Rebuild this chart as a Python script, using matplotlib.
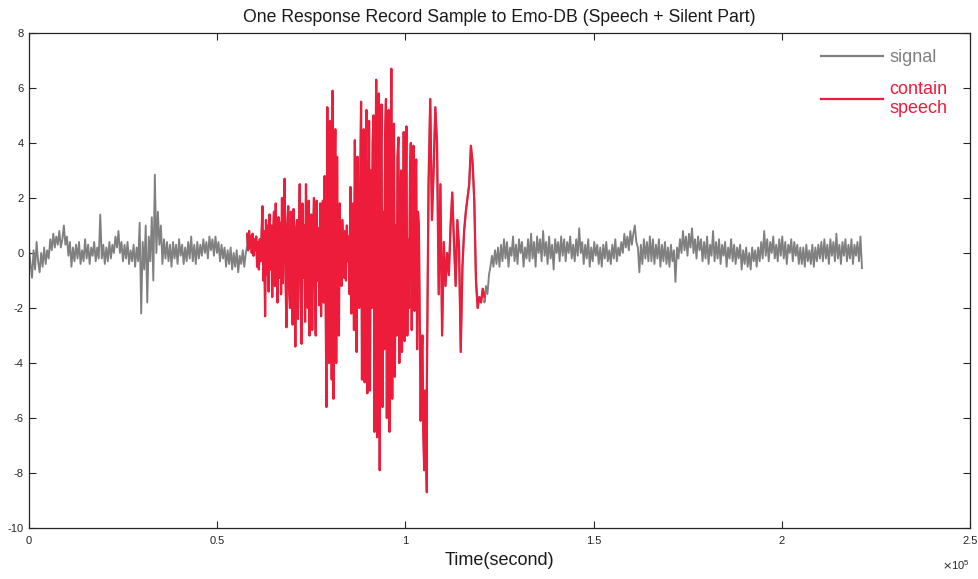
import numpy as np
import matplotlib
matplotlib.use("Agg")
import matplotlib.pyplot as plt
from matplotlib.ticker import FuncFormatter
from matplotlib.lines import Line2D

# ---------------- data ----------------
# segment boundaries in samples
t_breaks = [0, 58000, 105700, 121000, 221300]

pre_silence = [
    0.2, -0.4, -0.9, 0.1, -0.6, 0.4, -0.3, -0.7, 0.0, -0.5, 0.2, -0.4, 0.1, -0.2,
    0.5, 0.1, 0.7, 0.2, 0.6, 0.3, 0.8, 0.2, 0.5, 1.0, 0.3, 0.6,
    -0.1, 0.4, -0.5, 0.2, -0.3, 0.3, -0.2, 0.4, -0.4, 0.1, -0.3, 0.5, -0.2, 0.3,
    -0.4, 0.2, -0.1, 0.4, -0.3, 0.2, -0.2,
    1.4, -0.2, 0.3, -0.4, 0.2, -0.3, 0.4, -0.2, 0.3, 0.0, 0.6, 0.2, 0.8, 0.0,
    0.4, -0.3, 0.3, -0.2, 0.4, -0.4, 0.1, -0.3, 0.3, -0.5,
    0.2, -0.3, 1.1, -2.2, 0.4, -0.6, 1.0, -1.8, 0.6, -0.3, 1.3, -1.0, 2.85, 0.0, 1.5, 0.3,
    1.0, -0.4, 0.5, -0.2, 0.4, -0.3, 0.3, -0.5, 0.4, -0.2, 0.3, -0.4, 0.5, -0.1,
    0.3, -0.4, 0.2, -0.3, 0.4, -0.2, 0.6, -0.3, 0.3, -0.4, 0.4, -0.2, 0.3,
    -0.1, 0.5, 0.0, 0.4, -0.2, 0.6, 0.1, 0.5, -0.1, 0.6, 0.0, 0.4, -0.3, 0.3, -0.2,
    0.2, -0.5, 0.1, -0.4, 0.2, -0.6, 0.0, -0.5, 0.1, -0.7, -0.1, -0.4, 0.1, -0.5, 0.0, 0.3,
]

speech_dense = [
    0.7, 0.1, 0.8, 0.2, 0.6, 0.0, 0.7, -0.1, 0.5, 0.1,
    0.6, -0.5, 0.4, -0.6, 0.5, -0.3, 0.6,
    1.7, -1.0, 0.8, -2.3, 1.2, -0.8, 1.0,
    -1.4, 1.4, -0.6, 1.0, -1.6, 0.7, 1.5, -1.2, 1.8, -0.5, -1.8, 1.3, -0.9, 1.1, -1.5,
    2.0, -1.1, 1.2, 2.7, -0.8, -2.7, 1.0, 1.7, -1.3,
    -2.0, 1.5, -0.7, -2.6, 1.6, 0.4, -3.4, 0.9,
    1.2, -2.4, 0.6, 2.5, -1.1, -3.3, 1.8, -0.9, 1.0,
    -2.5, 2.5, -0.4, -2.0, 1.9, -3.0, 0.8, 1.4, -2.8, 0.5, 2.0, -1.2, -3.0, 1.9, -1.0, 0.9, -1.9,
    1.8, -2.3, 1.0, 1.9, -1.8, 2.8, -1.0,
    -5.6, 5.3, -1.5, -4.0, 4.8, 1.0, -4.6, 5.9, -5.3, 2.0, 4.5, -4.0, 3.5, -2.2,
    -3.0, 1.8, -0.5, -1.2, 1.2, 0.2, -0.9, 0.8, -1.0, 1.0, -0.3, 0.6,
    -1.5, 2.4, -2.2, 0.8, 1.8, -2.8, 4.1, -1.2, -3.6, 3.5, 0.5, -2.0, 2.5,
    5.5, -4.6, 1.0, 4.5, -4.7, 2.5, 5.2, -5.1, -1.5, 4.8, -5.0, 3.0, -2.0, 4.0,
    5.0, -6.5, 2.0, 6.3, -6.7, -1.0, 5.8, -7.9, 3.0, 5.4, -5.6, 1.5, -3.5, 4.2,
    5.6, -6.0, 2.0, 5.2, -6.5, -1.0, 6.7, -5.3, 2.0, 4.7, -4.5, 1.0, -3.0, 3.5,
    4.2, -4.0, 1.5, 3.0, -3.6, -0.5, 4.4, -3.2, 2.0, 4.6, -3.0, 0.5, -2.0, 2.8,
    4.0, -2.8, 1.0, 3.9, -2.1, 2.5, 3.4, -3.5, 1.5, 1.0, -2.5,
    -6.1, -4.0, -3.0, -6.5, -7.9, -5.0, -6.8, -8.7,
]

speech_tail = [
    -4.7, 2.5, 5.6, 1.2, 3.0, 5.3, 4.0, -1.5, 2.5, -3.0,
    0.4, -1.2, 0.0, -0.8, 1.0, 2.2, 0.4, -1.2, 1.2, 0.2,
    -3.6, -0.5, 0.8, 1.5, 2.0, 2.5, 3.9, 3.3, 1.9, -1.0,
    -2.0, -1.6, -1.8, -1.3, -1.6,
]

post_silence = [
    -1.8, -1.2, -1.5, -0.8, -0.5,
    -0.1, -0.5, 0.1, -0.4, 0.2, -0.5,
    0.3, -0.3, 0.5, -0.2, 0.4, -0.5, 0.2, -0.1, 0.6, -0.3,
    0.3, -0.4, 0.5, 0.0, 0.4, -0.5, 0.2, -0.2, 0.5, -0.3,
    0.7, -0.2, 0.4, -0.5, 0.6, 0.0, 0.5, -0.3, 0.8, -0.1,
    0.4, -0.4, 0.6, -0.2, 0.3, -0.6, 0.5, 0.0, 0.4, -0.3,
    0.6, -0.1, 0.5, -0.3, 0.4, 0.0, 0.6, -0.2, 0.3, -0.3, 0.5, -0.1, 0.9,
    0.0, 0.4, -0.4, 0.3, -0.2, 0.5, -0.5, 0.2, -0.3, 0.4, -0.1, 0.3, -0.4, 0.2,
    -0.5, 0.3, -0.2, 0.4, -0.3, 0.1, -0.4, 0.3, -0.2, 0.5, -0.3, 0.2, -0.1,
    0.4, 0.0, 0.7, 0.2, 0.6, 0.1, 0.8, 0.3, 0.7, 1.0, 0.4,
    0.2, -0.7, 0.3, -0.4, 0.5, -0.2, 0.4, -0.3, 0.6,
    -0.3, 0.5, -0.4, 0.3, -0.2, 0.5, -0.5, 0.3, -0.3, 0.4,
    -0.4, 0.2, -0.5, 0.3, -0.3, 0.1, -1.05, 0.2, -0.2, 0.5,
    0.0, 0.8, 0.1, 0.6, -0.1, 0.7, 0.2, 0.9, 0.0, 0.5, -0.2, 0.6, 0.1,
    0.5, -0.3, 0.4, -0.2, 0.6, -0.4, 0.3, -0.1, 0.8, -0.3, 0.4, -0.2, 0.5, -0.4,
    0.3, -0.1, 0.4, -0.5, 0.2, -0.2, 0.5, -0.3, 0.3, -0.4, 0.2, -0.2, 0.3,
    -0.6, 0.1, -0.4, 0.2, -0.5, 0.0, -0.6, 0.2, -0.3, 0.1, -0.5, 0.2, -0.3,
    0.4, -0.2, 0.8, -0.1, 0.5, -0.3, 0.4, 0.0, 0.6, -0.2, 0.3, -0.3, 0.5, -0.1,
    0.6, -0.2, 0.4, -0.4, 0.3, 0.0, 0.5, -0.3, 0.4, -0.1, 0.3, -0.4, 0.2,
    -0.4, 0.2, -0.5, 0.3, -0.3, 0.1, -0.4, 0.3, -0.5, 0.2, -0.3, 0.3, -0.2,
    0.4, -0.3, 0.5, -0.2, 0.3, -0.4, 0.5, -0.1, 0.4, -0.3, 0.7, -0.2, 0.3, -0.4,
    0.4, -0.1, 0.5, -0.3, 0.3, -0.2, 0.5, -0.4, 0.3, -0.1, 0.4, -0.3, 0.6, -0.55,
]

x_ticks = [0, 50000, 100000, 150000, 200000, 250000]
y_ticks = [-10, -8, -6, -4, -2, 0, 2, 4, 6, 8]

title = "One Response Record Sample to Emo-DB (Speech + Silent Part)"
x_label = "Time(second)"
legend_labels = ["signal", "contain\nspeech"]

# ---------------- styling ----------------
GRAY = "#808080"
RED = "#ED1C3A"
AX = "#262626"

plt.rcParams["font.family"] = ["Liberation Sans", "DejaVu Sans"]
plt.rcParams["axes.unicode_minus"] = False

fig = plt.figure(figsize=(9.79, 5.79), dpi=100)
ax = fig.add_axes([29 / 979, 1 - 528 / 579, (970 - 29) / 979, (528 - 33) / 579])

segments = [pre_silence, speech_dense, speech_tail, post_silence]
seg_t = []
seg_v = []
for i, vals in enumerate(segments):
    t = np.linspace(t_breaks[i], t_breaks[i + 1], len(vals))
    seg_t.append(t)
    seg_v.append(np.asarray(vals, dtype=float))

all_t = np.concatenate(seg_t)
all_v = np.concatenate(seg_v)
ax.plot(all_t, all_v, color=GRAY, lw=1.35, zorder=2)

sp_t = np.concatenate([seg_t[1], seg_t[2]])
sp_v = np.concatenate([seg_v[1], seg_v[2]])
ax.plot(sp_t, sp_v, color=RED, lw=1.6, zorder=3)

ax.set_xlim(0, 250000)
ax.set_ylim(-10, 8)
ax.set_xticks(x_ticks)
ax.set_yticks(y_ticks)
ax.xaxis.set_major_formatter(FuncFormatter(lambda v, p: f"{v / 1e5:g}"))
ax.tick_params(direction="in", length=5, width=0.8, colors=AX, labelsize=8,
               top=True, right=True)
ax.tick_params(axis="x", pad=6)
ax.tick_params(axis="y", pad=4)
for s in ax.spines.values():
    s.set_color(AX)
    s.set_linewidth(0.9)

ax.set_title(title, fontsize=12.7, color="#1a1a1a", pad=8)
ax.set_xlabel(x_label, fontsize=13, color="#1a1a1a", labelpad=4)
ax.text(1.0, -0.075, r"$\times\mathregular{10^5}$", transform=ax.transAxes,
        ha="right", va="center", fontsize=8, color=AX)

handles = [Line2D([0], [0], color=GRAY, lw=1.6), Line2D([0], [0], color=RED, lw=1.6)]
leg = ax.legend(handles, legend_labels, loc="upper right", frameon=False,
                fontsize=13, handlelength=3.4, handletextpad=0.35,
                labelcolor=[GRAY, RED], bbox_to_anchor=(0.993, 1.0),
                labelspacing=0.8)

fig.savefig("out.png", dpi=100)
